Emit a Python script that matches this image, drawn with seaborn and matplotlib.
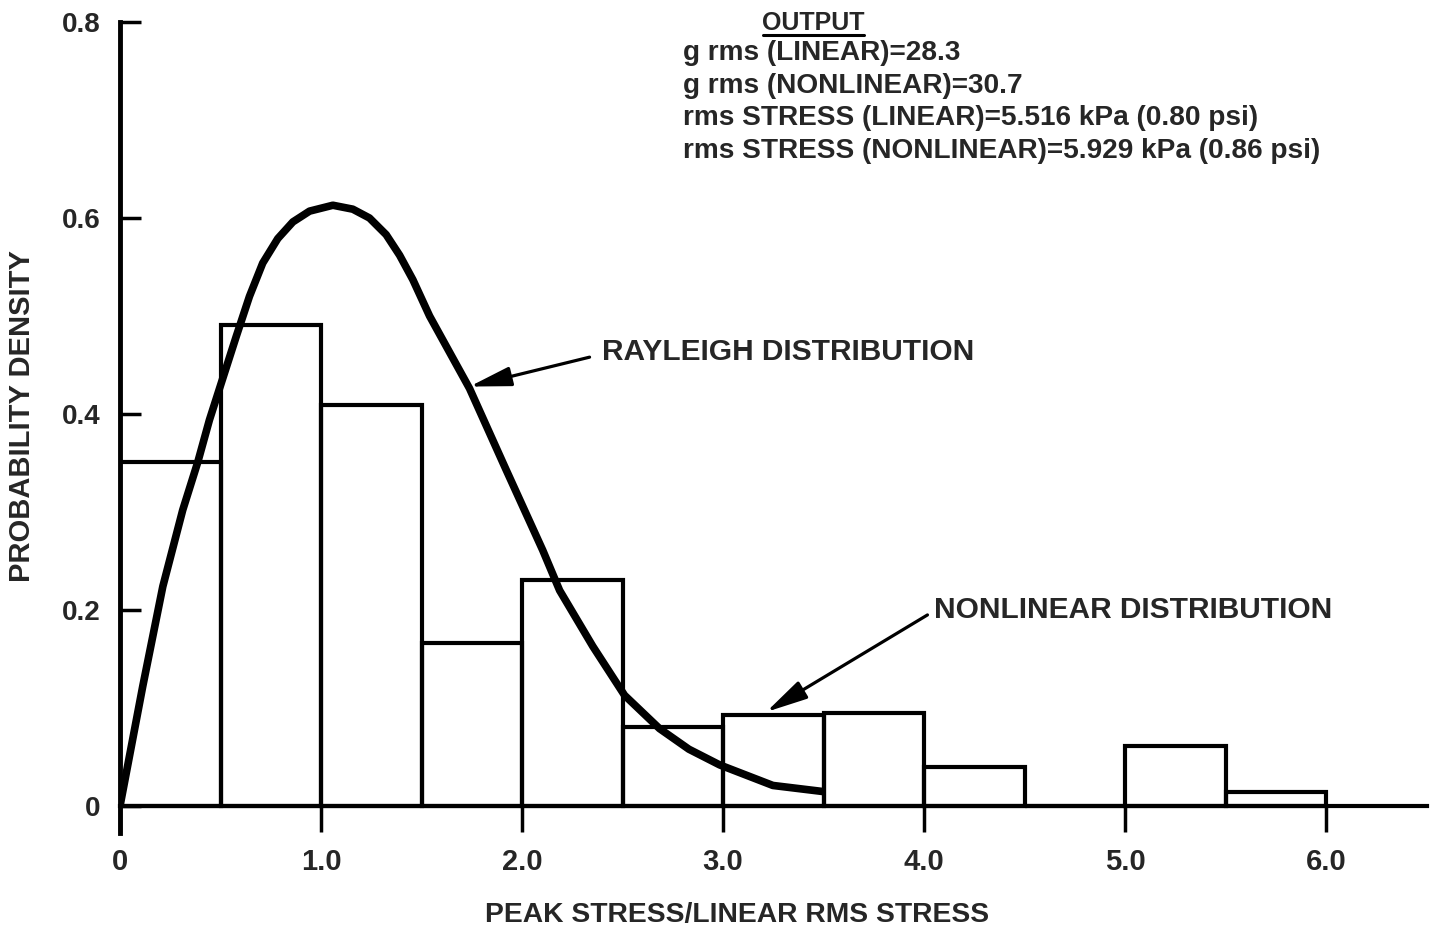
import matplotlib
matplotlib.use("Agg")
import matplotlib.pyplot as plt
import numpy as np
import seaborn as sns

# histogram of the nonlinear peak stress ratio (bin width 0.5)
bin_edges = [0.0, 0.5, 1.0, 1.5, 2.0, 2.5, 3.0, 3.5, 4.0, 4.5, 5.0, 5.5, 6.0]
nonlinear_density = [0.351, 0.491, 0.409, 0.166, 0.231, 0.081, 0.093,
                     0.095, 0.0395, 0.0, 0.061, 0.0146]

# rayleigh curve
rayleigh_x = [0.0, 0.113, 0.213, 0.312, 0.387, 0.445, 0.578, 0.644, 0.710,
              0.785, 0.860, 0.943, 1.059, 1.158, 1.241, 1.324, 1.391, 1.457,
              1.540, 1.739, 1.921, 2.103, 2.187, 2.352, 2.51, 2.684, 2.83,
              2.983, 3.248, 3.505]
rayleigh_y = [0.0, 0.122, 0.224, 0.302, 0.351, 0.394, 0.479, 0.520, 0.554,
              0.579, 0.596, 0.607, 0.613, 0.609, 0.600, 0.583, 0.562, 0.537,
              0.500, 0.426, 0.343, 0.261, 0.220, 0.163, 0.113, 0.079, 0.058,
              0.042, 0.021, 0.0146]

x_ticks = [0, 1, 2, 3, 4, 5, 6]
x_tick_labels = ["0", "1.0", "2.0", "3.0", "4.0", "5.0", "6.0"]
y_ticks = [0, 0.2, 0.4, 0.6, 0.8]
y_tick_labels = ["0", "0.2", "0.4", "0.6", "0.8"]

output_lines = [
    "g rms (LINEAR)=28.3",
    "g rms (NONLINEAR)=30.7",
    "rms STRESS (LINEAR)=5.516 kPa (0.80 psi)",
    "rms STRESS (NONLINEAR)=5.929 kPa (0.86 psi)",
]

sns.set_theme(style="white")
plt.rcParams["font.family"] = ["Liberation Sans", "DejaVu Sans"]

fig = plt.figure(figsize=(14.55, 9.31), dpi=100)
ax = fig.add_axes([120 / 1455, 0.1058, 0.898, 0.8706])

bin_centers = [(a + b) / 2 for a, b in zip(bin_edges[:-1], bin_edges[1:])]
sns.histplot(x=bin_centers, weights=nonlinear_density, bins=bin_edges,
             stat="count", element="bars", fill=False, color="black",
             linewidth=3, ax=ax)
sns.lineplot(x=rayleigh_x, y=rayleigh_y, color="black", linewidth=5.5,
             ax=ax, solid_capstyle="butt", solid_joinstyle="round")

ax.set_xlim(0, 6.5)
ax.set_ylim(-0.027, 0.8)

for side in ["top", "right"]:
    ax.spines[side].set_visible(False)
ax.spines["bottom"].set_position(("data", 0))
ax.spines["bottom"].set_linewidth(3)
ax.spines["left"].set_linewidth(3.5)
ax.spines["bottom"].set_color("black")
ax.spines["left"].set_color("black")

ax.set_xticks(x_ticks)
ax.set_xticklabels(x_tick_labels, fontweight="bold", fontsize=21)
ax.set_yticks(y_ticks)
ax.set_yticklabels(y_tick_labels, fontweight="bold", fontsize=20)
ax.tick_params(axis="x", direction="out", length=19, width=2.5, pad=11,
               bottom=True, color="black")
ax.tick_params(axis="y", direction="in", length=15, width=2.5, pad=14,
               left=True, color="black")

ax.set_xlabel("PEAK STRESS/LINEAR RMS STRESS", fontweight="bold", fontsize=20.3)
ax.xaxis.label.set_va("center")
ax.xaxis.set_label_coords(0.472, -0.102)
ax.set_ylabel("PROBABILITY DENSITY", fontweight="bold", fontsize=21)
ax.yaxis.label.set_va("center")
ax.yaxis.set_label_coords(-0.075, 0.514)

arrow_style = dict(arrowstyle="-|>,head_length=1.15,head_width=0.27",
                   lw=2.3, color="black", mutation_scale=22,
                   shrinkA=0, shrinkB=0)

# curve labels with arrows
ax.text(2.40, 0.463, "RAYLEIGH DISTRIBUTION", fontweight="bold", fontsize=21.5,
        ha="left", va="center")
ax.annotate("", xy=(1.739, 0.428), xytext=(2.336, 0.458),
            arrowprops=arrow_style)
ax.text(4.05, 0.20, "NONLINEAR DISTRIBUTION", fontweight="bold", fontsize=21.5,
        ha="left", va="center")
ax.annotate("", xy=(3.215, 0.096), xytext=(4.017, 0.195),
            arrowprops=arrow_style)

# output block
ax.text(3.45, 0.799, "OUTPUT", fontweight="bold", fontsize=18,
        ha="center", va="center", clip_on=False)
ax.plot([3.20, 3.70], [0.787, 0.787], color="black", lw=2.2, clip_on=False)
line_y = [0.768, 0.735, 0.702, 0.668]
for txt, yy in zip(output_lines, line_y):
    ax.text(2.80, yy, txt, fontweight="bold", fontsize=20.2,
            ha="left", va="center")

fig.savefig("out.png", dpi=100, facecolor="white")
